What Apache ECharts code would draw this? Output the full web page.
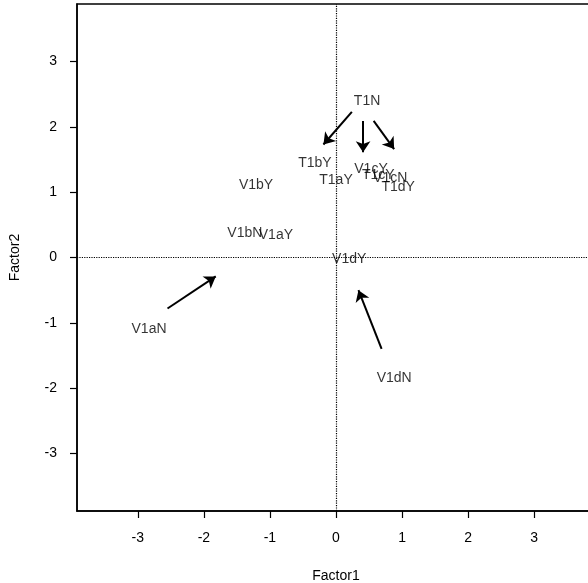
<!DOCTYPE html>
<html>
<head>
<meta charset="UTF-8">
<title>factor plot</title>
<script src="https://cdn.jsdelivr.net/npm/echarts@6/dist/echarts.min.js"></script>
<style>
  *{margin:0;padding:0}
  html,body{width:100%;height:100%;background:#fff}
  #main{width:588px;height:583px}
</style>
</head>
<body>
<div id="main"></div>
<script>
// label points (Factor1, Factor2)
var names = ['T1N','T1bY','T1aY','V1cY','T1cY','V1cN','T1dY','V1bY','V1bN','V1aY','V1dY','V1aN','V1dN'];
var xs    = [0.47, -0.32, 0.00, 0.53, 0.64, 0.82, 0.94, -1.21, -1.38, -0.91, 0.20, -2.83, 0.88];
var ys    = [2.40,  1.45, 1.18, 1.35, 1.26, 1.21, 1.07,  1.10,  0.37,  0.34, -0.03, -1.10, -1.84];

// arrows: start and end points
var arrowFrom = [[0.24, 2.23], [0.41, 2.09], [0.57, 2.09], [-2.55, -0.78], [0.69, -1.40]];
var arrowTo   = [[-0.19, 1.73], [0.41, 1.61], [0.88, 1.66], [-1.82, -0.29], [0.34, -0.50]];

var ticks = [-3, -2, -1, 0, 1, 2, 3];

var pts = names.map(function (n, i) { return { name: n, value: [xs[i], ys[i]] }; });
var arrows = arrowFrom.map(function (a, i) { return { coords: [a, arrowTo[i]] }; });

var chart = echarts.init(document.getElementById('main'));
var font = 'Liberation Sans, Arial, sans-serif';
var axisCommon = {
  type: 'value',
  splitLine: { show: false },
  axisLine: { show: true, onZero: false, lineStyle: { color: '#000', width: 1.5 } },
  axisTick: { show: true, inside: false, length: 7, customValues: ticks, lineStyle: { color: '#000', width: 1.2 } },
  axisLabel: { customValues: ticks, color: '#000', fontSize: 14, fontFamily: font, margin: 20 },
  nameLocation: 'middle',
  nameTextStyle: { color: '#000', fontSize: 14, fontFamily: font }
};

chart.setOption({
  animation: false,
  grid: {
    left: 77, top: 4, width: 518, height: 507,
    outerBoundsMode: 'none', containLabel: false,
    show: true, borderColor: '#000', borderWidth: 1.5
  },
  xAxis: Object.assign({}, axisCommon, { min: -3.92, max: 3.92, name: 'Factor1', nameGap: 58 }),
  yAxis: Object.assign({}, axisCommon, { min: -3.88, max: 3.88, name: 'Factor2', nameGap: 55 }),
  series: [
    {
      type: 'scatter',
      data: pts,
      symbolSize: 0,
      label: {
        show: true, position: 'inside', formatter: '{b}',
        color: '#000', fontSize: 14, fontFamily: font, textBorderWidth: 0
      },
      markLine: {
        silent: true,
        symbol: ['none', 'none'],
        label: { show: false },
        lineStyle: { color: '#000', type: 'dotted', width: 1.2 },
        data: [{ xAxis: 0 }, { yAxis: 0 }]
      },
      z: 3
    },
    {
      type: 'lines',
      coordinateSystem: 'cartesian2d',
      data: arrows,
      symbol: ['none', 'arrow'],
      symbolSize: [8, 11],
      lineStyle: { color: '#000', width: 2, opacity: 1 },
      z: 4
    }
  ]
});
</script>
</body>
</html>
